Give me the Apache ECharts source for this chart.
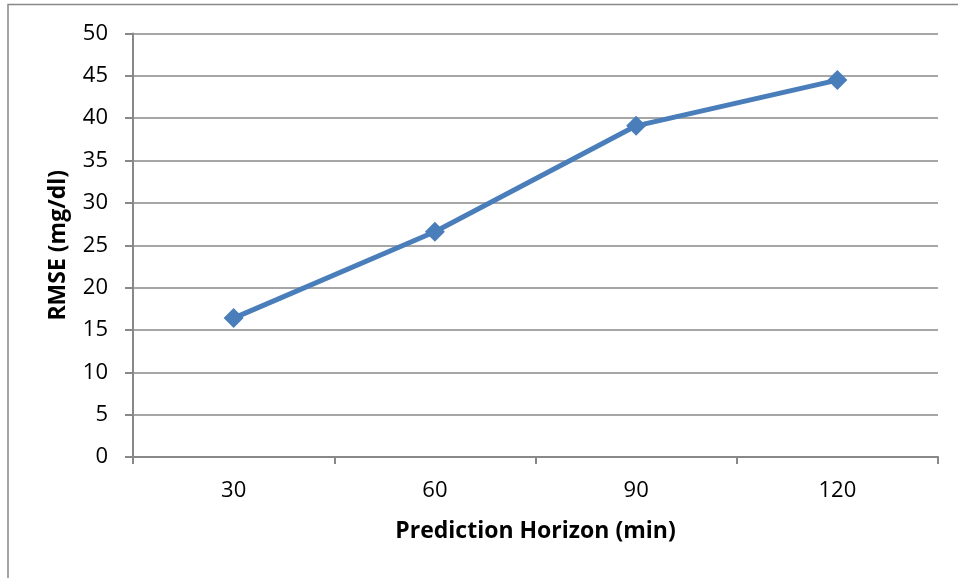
<!DOCTYPE html>
<html><head><meta charset="utf-8">
<script src="https://cdn.jsdelivr.net/npm/echarts@6/dist/echarts.min.js"></script>
<style>html,body{margin:0;padding:0;background:#fff}#c{width:958px;height:578px}</style>
</head><body><div id="c"></div>
<script>
const categories = ['30', '60', '90', '120'];
const rmse = [16.4, 26.6, 39.1, 44.5];
const xTitle = 'Prediction Horizon (min)';
const yTitle = 'RMSE (mg/dl)';
const font = '"Open Sans", "Liberation Sans", sans-serif';
const chart = echarts.init(document.getElementById('c'));
chart.setOption({
  animation: false,
  backgroundColor: '#fff',
  graphic: [{type:'rect', shape:{x:8, y:4.5, width:1000, height:1000}, style:{fill:'none', stroke:'#888', lineWidth:1.5}, z:-1}],
  grid: {left:133, right:20, top:33.5, bottom:121, containLabel:false},
  xAxis: {
    type:'category', data:categories, boundaryGap:true,
    name:xTitle, nameLocation:'middle', nameGap:63,
    nameTextStyle:{fontFamily:font, fontSize:23, fontWeight:'bold', color:'#000'},
    axisLine:{lineStyle:{color:'#888', width:2}},
    axisTick:{show:true, length:7, lineStyle:{color:'#888', width:2}},
    axisLabel:{fontFamily:font, fontSize:22, color:'#000', margin:23},
    splitLine:{show:false}
  },
  yAxis: {
    type:'value', min:0, max:50, interval:5,
    name:yTitle, nameLocation:'middle', nameGap:63, nameRotate:90,
    nameTextStyle:{fontFamily:font, fontSize:23, fontWeight:'bold', color:'#000'},
    axisLine:{show:true, lineStyle:{color:'#888', width:2}},
    axisTick:{show:true, length:8, lineStyle:{color:'#888', width:2}},
    axisLabel:{fontFamily:font, fontSize:22, color:'#000', margin:25},
    splitLine:{lineStyle:{color:'#888', width:1.5}}
  },
  series: [{
    type:'line', data:rmse, symbol:'diamond', symbolSize:20,
    lineStyle:{color:'#4A7EBB', width:5},
    itemStyle:{color:'#4A7EBB'}
  }]
});
</script></body></html>
